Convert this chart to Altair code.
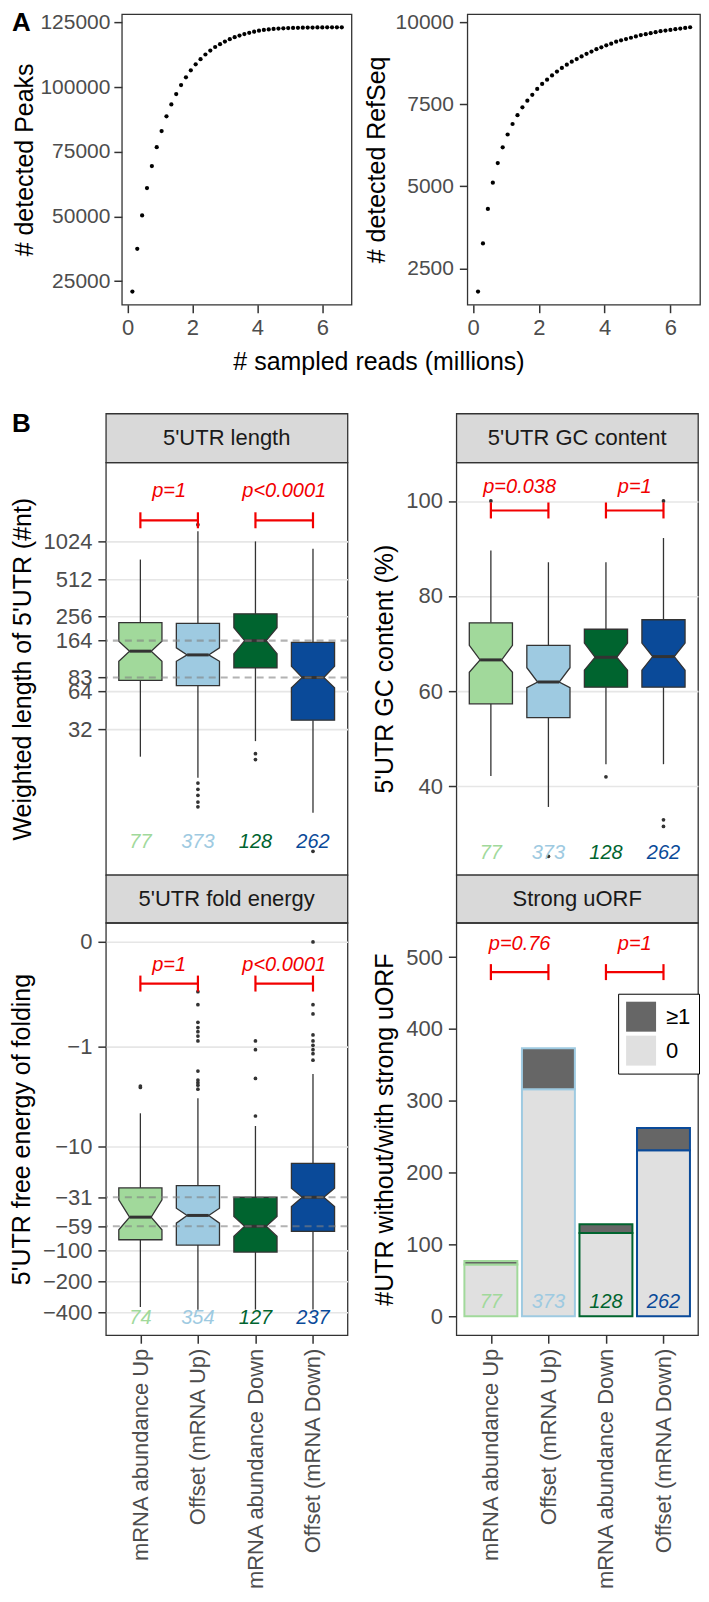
import json
import altair as alt
import pandas as pd

FONT = "Liberation Sans"
RED = "#f20000"
DARK = "#333333"

# ---------------- Panel A data ----------------
reads_millions = [0.15, 0.30, 0.45, 0.60, 0.75, 0.90, 1.05, 1.20, 1.35, 1.50, 1.65, 1.80, 1.95, 2.10,
                  2.25, 2.40, 2.55, 2.70, 2.85, 3.00, 3.15, 3.30, 3.45, 3.60, 3.75, 3.90, 4.05, 4.20,
                  4.35, 4.50, 4.65, 4.80, 4.95, 5.10, 5.25, 5.40, 5.55, 5.70, 5.85, 6.00, 6.15, 6.30,
                  6.45, 6.60]
detected_peaks = [21000, 37500, 50400, 61000, 69500, 76800, 83000, 88700, 93300, 97300,
                  100800, 103800, 106500, 108800, 110800, 112600, 114100, 115500, 116600, 117600,
                  118500, 119300, 119900, 120500, 121000, 121400, 121800, 122100, 122300, 122500,
                  122600, 122700, 122800, 122850, 122900, 122950, 123000, 123000, 123050, 123050,
                  123100, 123100, 123100, 123100]
detected_refseq = [1790, 3260, 4310, 5110, 5710, 6190, 6580, 6900, 7170, 7410,
                   7610, 7790, 7970, 8120, 8250, 8380, 8500, 8610, 8710, 8800,
                   8880, 8960, 9040, 9110, 9180, 9240, 9300, 9350, 9410, 9450,
                   9490, 9530, 9570, 9610, 9640, 9670, 9700, 9730, 9750, 9770,
                   9790, 9810, 9830, 9850]

# ---------------- Panel B data ----------------
groups = ["mRNA abundance Up", "Offset (mRNA Up)", "mRNA abundance Down", "Offset (mRNA Down)"]
group_colors = ["#a1d99b", "#9ecae1", "#00642f", "#0a4a99"]
strip_titles = ["5'UTR length", "5'UTR GC content", "5'UTR fold energy", "Strong uORF"]

# 5'UTR length (nt)
len_q1 = [78.8, 71.5, 99, 37.7]
len_notch_lo = [112, 112, 129, 68.7]
len_median = [135, 126, 164, 83]
len_notch_hi = [162, 143.5, 208, 102]
len_q3 = [229, 226, 269, 159]
len_whisker_lo = [19.2, 13.0, 25.6, 6.8]
len_whisker_hi = [734, 1236, 1027, 897]
len_out_group = [2, 2, 2, 2, 2, 2, 3, 3, 4]
len_out_value = [1400, 11.8, 10.5, 9.4, 8.3, 7.6, 20.3, 18.2, 3.34]
len_counts = [77, 373, 128, 262]
len_ref_lines = [164, 83]
len_ticks = [32, 64, 83, 164, 256, 512, 1024]
len_pvalues = ["p=1", "p<0.0001"]

# 5'UTR GC content (%)
gc_q1 = [57.3, 54.4, 60.8, 60.8]
gc_notch_lo = [63.95, 60.7, 64.4, 64.4]
gc_median = [66.55, 61.9, 67.1, 67.25]
gc_notch_hi = [69.6, 64.9, 70.1, 70.1]
gc_q3 = [74.35, 69.6, 73.0, 75.0]
gc_whisker_lo = [42.1, 35.6, 44.6, 44.6]
gc_whisker_hi = [89.6, 87.1, 87.1, 92.2]
gc_out_group = [1, 2, 3, 4, 4, 4]
gc_out_value = [100, 25.2, 41.95, 100, 32.9, 31.5]
gc_counts = [77, 373, 128, 262]
gc_ticks = [40, 60, 80, 100]
gc_pvalues = ["p=0.038", "p=1"]

# 5'UTR free energy of folding
fe_q1 = [-79.5, -89.4, -104.4, -66.1]
fe_notch_lo = [-63.8, -55.0, -73.8, -38.1]
fe_median = [-48.2, -46.4, -59, -31]
fe_notch_hi = [-32.9, -39.5, -47.4, -25.4]
fe_q3 = [-25.2, -23.9, -31, -14.6]
fe_whisker_lo = [-352, -374, -373, -373]
fe_whisker_hi = [-4.75, -3.38, -6.33, -1.93]
fe_out_group = [1, 1,
                2, 2, 2, 2, 2, 2, 2, 2, 2, 2, 2, 2,
                3, 3, 3, 3,
                4, 4, 4, 4, 4, 4, 4, 4, 4]
fe_out_value = [-2.55, -2.63,
                -0.22, -0.33, -0.54, -0.62, -0.69, -0.77, -0.87, -1.80, -2.22, -2.36, -2.50, -2.74,
                -0.87, -1.08, -2.14, -5.05,
                0, -0.33, -0.43, -0.75, -0.87, -0.97, -1.08, -1.19, -1.39]
fe_counts = [74, 354, 127, 237]
fe_ref_lines = [-31, -59]
fe_ticks = [0, -1, -10, -31, -59, -100, -200, -400]
fe_pvalues = ["p=1", "p<0.0001"]

# Strong uORF
uorf_categories = ["\u22651", "0"]
uorf_zero = [72, 316, 116, 231]
uorf_one_plus = [5, 57, 12, 31]
uorf_counts = [77, 373, 128, 262]
uorf_ticks = [0, 100, 200, 300, 400, 500]
uorf_pvalues = ["p=0.76", "p=1"]

# annotation heights (data units)
len_annot = {"bracket": 1517, "ptext": 2590, "count": 4.0}
gc_annot = {"bracket": 98.0, "ptext": 102.9, "count": 26.0}
fe_annot = {"bracket": -0.166, "ptext": -0.074, "count": -448}
uorf_annot = {"bracket": 479, "ptext": 518.5, "count": 19.4}

# ---------------- sizes ----------------
W_A1, W_A2, H_A = 230, 233, 291
W_B, H_B = 242, 413
H_S1, H_S2 = 49, 48
A_SHIFT = 16
GAP_A, GAP_B = 116, 109
ROW_GAP = 34

color_scale = alt.Scale(domain=groups, range=group_colors)
xB_scale = alt.Scale(domain=[0.4, 4.6], nice=False, zero=False)
label_expr = json.dumps(groups) + "[datum.value - 1]"


def x_axis_bottom():
    return alt.Axis(values=[1, 2, 3, 4], labelExpr=label_expr, labelAngle=-90, grid=False,
                    labelFontSize=22, labelPadding=5, labelLimit=400)


def bracket_layers(pvals, annot, X, Y):
    br = pd.DataFrame([
        {"a": 1, "b": 2, "xm": 1.5, "v": annot["bracket"], "vt": annot["ptext"], "p": pvals[0]},
        {"a": 3, "b": 4, "xm": 3.5, "v": annot["bracket"], "vt": annot["ptext"], "p": pvals[1]},
    ])
    ends = pd.DataFrame([{"g": g, "v": annot["bracket"]} for g in [1, 2, 3, 4]])
    line = alt.Chart(br).mark_rule(color=RED, strokeWidth=2.2).encode(x=X("a"), x2=alt.X2("b"), y=Y("v"))
    ticks = alt.Chart(ends).mark_tick(orient="vertical", size=16, thickness=2.2, color=RED, opacity=1).encode(
        x=X("g"), y=Y("v"))
    text = alt.Chart(br).mark_text(font=FONT, fontSize=20, fontStyle="italic", color=RED).encode(
        x=X("xm"), y=Y("vt"), text="p:N")
    return [line, ticks, text]


def box_panel(q1, nlo, med, nhi, q3, wlo, whi, out_g, out_v, counts, refs, pvals, annot,
              yscale, yaxis, ytitle, xaxis):
    shape_rows, whisk_rows, med_rows, count_rows = [], [], [], []
    for i in range(4):
        for k, v in enumerate([q1[i], nlo[i], med[i], nhi[i], q3[i]]):
            shape_rows.append({"g": i + 1, "grp": groups[i], "k": k, "v": v})
        whisk_rows.append({"g": i + 1, "v": q3[i], "v2": whi[i]})
        whisk_rows.append({"g": i + 1, "v": q1[i], "v2": wlo[i]})
        med_rows.append({"g": i + 1, "v": med[i]})
        count_rows.append({"g": i + 1, "grp": groups[i], "v": annot["count"], "n": str(counts[i])})
    out_rows = [{"g": g, "v": v} for g, v in zip(out_g, out_v)]
    ref_rows = [{"v": r} for r in refs]

    def Y(f):
        return alt.Y(f, type="quantitative", scale=yscale, axis=yaxis, title=ytitle)

    def X(f):
        return alt.X(f, type="quantitative", scale=xB_scale, axis=xaxis, title=None)

    whiskers = alt.Chart(pd.DataFrame(whisk_rows)).mark_rule(color=DARK, strokeWidth=1.3).encode(
        x=X("g"), y=Y("v"), y2=alt.Y2("v2"))
    boxes = alt.Chart(pd.DataFrame(shape_rows)).transform_calculate(
        hw="datum.k == 2 ? 0.1875 : 0.375"
    ).transform_calculate(
        xl="datum.g - datum.hw", xr="datum.g + datum.hw"
    ).mark_area(orient="horizontal", stroke=DARK, strokeWidth=1.3, opacity=1).encode(
        y=Y("v"), x=X("xl"), x2=alt.X2("xr"),
        color=alt.Color("grp:N", scale=color_scale, legend=None))
    medians = alt.Chart(pd.DataFrame(med_rows)).transform_calculate(
        xl="datum.g - 0.1875", xr="datum.g + 0.1875"
    ).mark_rule(color=DARK, strokeWidth=3).encode(x=X("xl"), x2=alt.X2("xr"), y=Y("v"))
    layers = [whiskers, boxes, medians]
    if ref_rows:
        layers.append(alt.Chart(pd.DataFrame(ref_rows)).mark_rule(
            color="#808080", opacity=0.6, strokeWidth=2.2, strokeDash=[7, 5]).encode(y=Y("v")))
    layers.append(alt.Chart(pd.DataFrame(out_rows)).mark_circle(size=14, color=DARK, opacity=1).encode(
        x=X("g"), y=Y("v")))
    layers.append(alt.Chart(pd.DataFrame(count_rows)).mark_text(
        font=FONT, fontSize=20, fontStyle="italic").encode(
        x=X("g"), y=Y("v"), text="n:N", color=alt.Color("grp:N", scale=color_scale, legend=None)))
    layers += bracket_layers(pvals, annot, X, Y)
    return alt.layer(*layers).properties(width=W_B, height=H_B)


def strip(title, h, label=None):
    layers = [alt.Chart(alt.Data(values=[{"t": title}])).mark_text(
        font=FONT, fontSize=22, color="#1a1a1a").encode(
        text="t:N", x=alt.value(W_B / 2), y=alt.value(h / 2))]
    if label:
        layers.append(alt.Chart(alt.Data(values=[{"t": label}])).mark_text(
            font=FONT, fontSize=26, fontWeight="bold", align="left", baseline="middle").encode(
            text="t:N", x=alt.value(-94), y=alt.value(10)))
    return alt.layer(*layers).properties(
        width=W_B, height=h,
        view=alt.ViewBackground(fill="#d9d9d9", stroke=DARK, strokeWidth=1.3))


def spacer(w, h):
    return alt.Chart(alt.Data(values=[{"t": ""}])).mark_text().encode(text="t:N").properties(
        width=w, height=h, view=alt.ViewBackground(stroke="transparent", fill="transparent"))


# ---------------- Panel A charts ----------------
dfA = pd.DataFrame({"reads": reads_millions, "peaks": detected_peaks, "refseq": detected_refseq})
xA_scale = alt.Scale(domain=[-0.175, 6.9], nice=False, zero=False)

a1_points = alt.Chart(dfA).mark_circle(size=18, color="black", opacity=1).encode(
    x=alt.X("reads:Q", scale=xA_scale,
            axis=alt.Axis(values=[0, 2, 4, 6], grid=False, labelPadding=5,
                          titleX=257, titleY=57, titleAlign="center", titleBaseline="middle"),
            title="# sampled reads (millions)"),
    y=alt.Y("peaks:Q", scale=alt.Scale(domain=[15900, 128200], nice=False, zero=False),
            axis=alt.Axis(values=[25000, 50000, 75000, 100000, 125000], format="d", grid=False,
                          titlePadding=2, labelPadding=4, labelFontSize=21),
            title="# detected Peaks"))
a_label = alt.Chart(alt.Data(values=[{"t": "A"}])).mark_text(
    font=FONT, fontSize=26, fontWeight="bold", align="left", baseline="middle").encode(
    text="t:N", x=alt.value(-110), y=alt.value(9))
A1 = alt.layer(a1_points, a_label).properties(width=W_A1, height=H_A)

A2 = alt.Chart(dfA).mark_circle(size=18, color="black", opacity=1).encode(
    x=alt.X("reads:Q", scale=xA_scale, axis=alt.Axis(values=[0, 2, 4, 6], grid=False, labelPadding=5),
            title=None),
    y=alt.Y("refseq:Q", scale=alt.Scale(domain=[1390, 10250], nice=False, zero=False),
            axis=alt.Axis(values=[2500, 5000, 7500, 10000], format="d", grid=False, titlePadding=6,
                          labelFontSize=21),
            title="# detected RefSeq")).properties(width=W_A2, height=H_A)

rowA = alt.hconcat(spacer(A_SHIFT, H_A), A1, spacer(GAP_A, H_A), A2, spacing=0, bounds="flush")

# ---------------- Panel B charts ----------------
len_panel = box_panel(
    len_q1, len_notch_lo, len_median, len_notch_hi, len_q3, len_whisker_lo, len_whisker_hi,
    len_out_group, len_out_value, len_counts, len_ref_lines, len_pvalues, len_annot,
    alt.Scale(type="log", base=2, domain=[2.16, 4415], nice=False),
    alt.Axis(values=len_ticks, format="d", labelOverlap=False,
             gridOpacity={"condition": {"test": "datum.value == 83 || datum.value == 164", "value": 0},
                          "value": 1}),
    "Weighted length of 5'UTR (#nt)", None)

gc_panel = box_panel(
    gc_q1, gc_notch_lo, gc_median, gc_notch_hi, gc_q3, gc_whisker_lo, gc_whisker_hi,
    gc_out_group, gc_out_value, gc_counts, [], gc_pvalues, gc_annot,
    alt.Scale(domain=[21.3, 108.1], nice=False, zero=False),
    alt.Axis(values=gc_ticks, format="d"),
    "5'UTR GC content (%)", None)

fe_panel = box_panel(
    fe_q1, fe_notch_lo, fe_median, fe_notch_hi, fe_q3, fe_whisker_lo, fe_whisker_hi,
    fe_out_group, fe_out_value, fe_counts, fe_ref_lines, fe_pvalues, fe_annot,
    alt.Scale(type="symlog", constant=0.11, domain=[-657.5, 0.058], nice=False, zero=False),
    alt.Axis(values=fe_ticks, format="d", labelOverlap=False,
             gridOpacity={"condition": {"test": "datum.value == -31 || datum.value == -59", "value": 0},
                          "value": 1}),
    "5'UTR free energy of folding", x_axis_bottom())

# uORF stacked bars
bar_rows = []
for i in range(4):
    bar_rows.append({"g": i + 1, "grp": groups[i], "cat": uorf_categories[1], "ord": 0, "cnt": uorf_zero[i]})
    bar_rows.append({"g": i + 1, "grp": groups[i], "cat": uorf_categories[0], "ord": 1, "cnt": uorf_one_plus[i]})
uorf_yscale = alt.Scale(domain=[-26.4, 547.6], nice=False, zero=False)
uorf_yaxis = alt.Axis(values=uorf_ticks, format="d", grid=False)
uorf_title = "#UTR without/with strong uORF"


def UY(f):
    return alt.Y(f, type="quantitative", scale=uorf_yscale, axis=uorf_yaxis, title=uorf_title)


def UX(f):
    return alt.X(f, type="quantitative", scale=xB_scale, axis=x_axis_bottom(), title=None)


LEG_X = 513
LEG_Y = 981

bars = alt.Chart(pd.DataFrame(bar_rows)).transform_stack(
    stack="cnt", groupby=["g"], as_=["y0", "y1"], sort=[alt.SortField("ord", order="ascending")]
).transform_calculate(
    xl="datum.g - 0.46", xr="datum.g + 0.46"
).mark_rect(strokeWidth=2, opacity=1).encode(
    x=UX("xl"), x2=alt.X2("xr"), y=UY("y0"), y2=alt.Y2("y1"),
    fill=alt.Fill("cat:N", scale=alt.Scale(domain=uorf_categories, range=["#666666", "#e0e0e0"]),
                  legend=alt.Legend(orient="none", legendX=LEG_X, legendY=LEG_Y, title=None,
                                    symbolType="square", symbolSize=900, symbolStrokeWidth=0,
                                    symbolOpacity=1, labelFont=FONT, labelFontSize=22,
                                    labelColor="black", strokeColor="black", fillColor="white",
                                    padding=8, rowPadding=4, labelOffset=10)),
    stroke=alt.Stroke("grp:N", scale=color_scale, legend=None))
uorf_count_df = pd.DataFrame([{"g": i + 1, "grp": groups[i], "v": uorf_annot["count"], "n": str(uorf_counts[i])}
                              for i in range(4)])
uorf_counts_layer = alt.Chart(uorf_count_df).mark_text(font=FONT, fontSize=20, fontStyle="italic").encode(
    x=UX("g"), y=UY("v"), text="n:N", color=alt.Color("grp:N", scale=color_scale, legend=None))
uorf_panel = alt.layer(bars, uorf_counts_layer, *bracket_layers(uorf_pvalues, uorf_annot, UX, UY)).properties(
    width=W_B, height=H_B)

rowB = alt.concat(
    strip(strip_titles[0], H_S1, label="B"), spacer(GAP_B, H_S1), strip(strip_titles[1], H_S1),
    len_panel, spacer(GAP_B, H_B), gc_panel,
    strip(strip_titles[2], H_S2), spacer(GAP_B, H_S2), strip(strip_titles[3], H_S2),
    fe_panel, spacer(GAP_B, H_B), uorf_panel,
    columns=3, spacing=0, bounds="flush", align="each")

chart = alt.vconcat(rowA, rowB, spacing=ROW_GAP).properties(
    padding=0
).configure(
    font=FONT
).configure_view(
    stroke=DARK, strokeWidth=1.3
).configure_axis(
    labelFont=FONT, titleFont=FONT, labelFontSize=22, titleFontSize=25,
    labelColor="#4d4d4d", titleColor="black", titleFontWeight="normal",
    tickColor=DARK, tickSize=8, tickWidth=1.5, domain=False,
    labelPadding=6, titlePadding=8, gridColor="#e6e6e6", gridWidth=1.6
)

chart.save("out.html", embed_options={"renderer": "svg", "actions": False})
